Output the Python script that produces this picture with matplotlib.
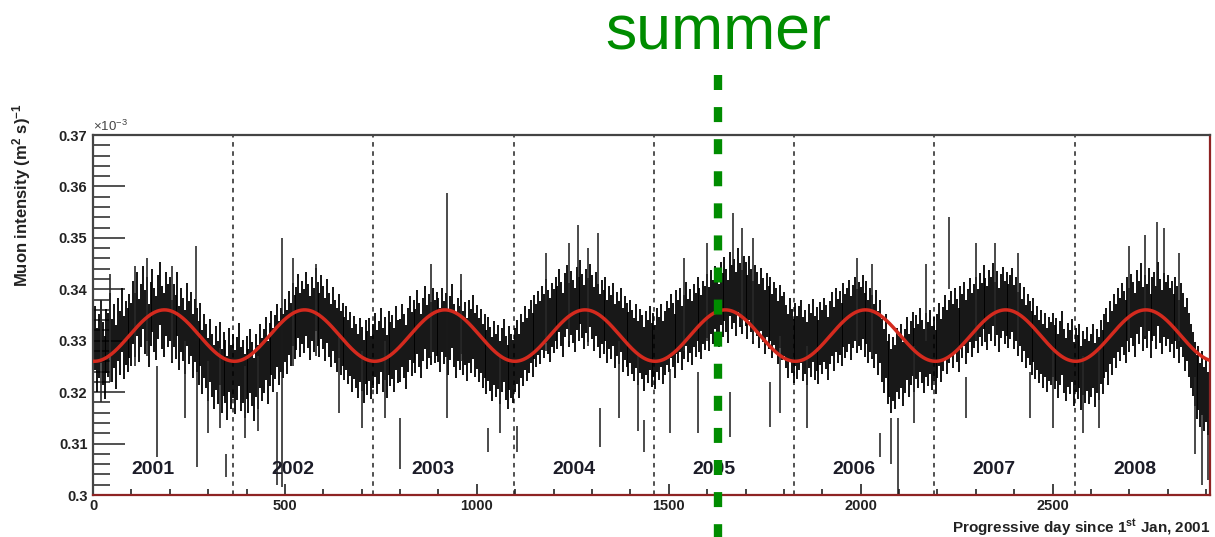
import numpy as np
import matplotlib
matplotlib.use('Agg')
import matplotlib.pyplot as plt
from matplotlib.ticker import MultipleLocator, FixedLocator, FuncFormatter

plt.rcParams['font.family'] = ['Liberation Sans', 'DejaVu Sans']
plt.rcParams['mathtext.default'] = 'regular'

# ---------------- data ----------------
day_step = 5  # one value every 5 days, starting at day 0
# muon intensity in units of 1e-4 (x 10^-3 (m^2 s)^-1)
intensity_e4 = [
    3270, 3305, 3262, 3290, 3318, 3275, 3248, 3300, 3292, 3330, 3281, 3309, 3268, 3322, 3296, 3340, 3287, 3315, 3302, 3328,
    3312, 3355, 3331, 3372, 3320, 3349, 3384, 3336, 3361, 3310, 3352, 3378, 3341, 3325, 3366, 3392, 3345, 3330, 3371, 3349,
    3362, 3318, 3349, 3327, 3371, 3305, 3340, 3322, 3298, 3351, 3316, 3333, 3290, 3320, 3302, 3276, 3312, 3258, 3289, 3270,
    3244, 3281, 3252, 3229, 3266, 3238, 3275, 3221, 3255, 3240, 3208, 3262, 3230, 3251, 3219, 3246, 3273, 3225, 3240, 3212,
    3248, 3221, 3260, 3236, 3205, 3252, 3229, 3270, 3244, 3261, 3285, 3238, 3273, 3296, 3262, 3288, 3310, 3276, 3301, 3289,
    3320, 3297, 3334, 3312, 3351, 3326, 3343, 3368, 3330, 3355, 3339, 3372, 3348, 3324, 3361, 3340, 3380, 3352, 3331, 3366,
    3345, 3322, 3358, 3331, 3310, 3342, 3318, 3301, 3329, 3296, 3312, 3285, 3306, 3278, 3293, 3262, 3287, 3270, 3251, 3282,
    3265, 3240, 3278, 3256, 3283, 3248, 3271, 3292, 3259, 3277, 3301, 3263, 3285, 3250, 3296, 3274, 3288, 3262, 3305, 3279,
    3281, 3310, 3289, 3268, 3302, 3325, 3293, 3318, 3300, 3336, 3311, 3290, 3322, 3345, 3307, 3329, 3314, 3340, 3318, 3333,
    3321, 3302, 3340, 3316, 3331, 3295, 3324, 3348, 3310, 3289, 3322, 3305, 3337, 3296, 3314, 3283, 3318, 3300, 3327, 3291,
    3307, 3282, 3299, 3271, 3290, 3258, 3284, 3265, 3245, 3276, 3252, 3269, 3238, 3262, 3281, 3247, 3229, 3266, 3251, 3240,
    3262, 3278, 3251, 3290, 3274, 3305, 3283, 3299, 3318, 3292, 3326, 3310, 3335, 3316, 3344, 3329, 3358, 3336, 3321, 3350,
    3338, 3362, 3345, 3378, 3352, 3331, 3369, 3385, 3350, 3374, 3357, 3340, 3382, 3361, 3395, 3368, 3346, 3377, 3359, 3388,
    3365, 3342, 3371, 3349, 3328, 3356, 3337, 3362, 3318, 3345, 3326, 3351, 3309, 3333, 3316, 3340, 3302, 3325, 3311, 3294,
    3318, 3297, 3283, 3309, 3276, 3300, 3288, 3265, 3295, 3279, 3306, 3272, 3291, 3268, 3302, 3285, 3310, 3277, 3296, 3315,
    3302, 3329, 3311, 3290, 3336, 3318, 3341, 3306, 3327, 3352, 3320, 3338, 3315, 3349, 3331, 3362, 3340, 3326, 3355, 3344,
    3368, 3342, 3375, 3356, 3384, 3361, 3349, 3392, 3370, 3401, 3378, 3357, 3410, 3385, 3396, 3372, 3418, 3389, 3375, 3403,
    3391, 3366, 3402, 3378, 3355, 3386, 3371, 3348, 3380, 3359, 3336, 3370, 3345, 3362, 3329, 3353, 3340, 3316, 3347, 3325,
    3333, 3308, 3290, 3322, 3299, 3280, 3312, 3287, 3306, 3318, 3284, 3297, 3275, 3309, 3291, 3320, 3286, 3303, 3278, 3314,
    3298, 3321, 3307, 3285, 3316, 3332, 3304, 3340, 3319, 3335, 3312, 3350, 3328, 3341, 3356, 3325, 3347, 3361, 3338, 3352,
    3343, 3366, 3330, 3355, 3318, 3340, 3327, 3309, 3336, 3296, 3318, 3281, 3260, 3289, 3238, 3252, 3221, 3245, 3230, 3262,
    3248, 3270, 3236, 3261, 3285, 3252, 3276, 3294, 3263, 3288, 3271, 3302, 3279, 3260, 3291, 3274, 3297, 3266, 3284, 3258,
    3290, 3312, 3281, 3304, 3326, 3298, 3318, 3335, 3309, 3341, 3320, 3302, 3345, 3328, 3352, 3317, 3339, 3360, 3331, 3348,
    3362, 3338, 3370, 3351, 3385, 3359, 3344, 3376, 3361, 3390, 3352, 3373, 3340, 3367, 3381, 3355, 3372, 3348, 3365, 3379,
    3346, 3362, 3333, 3351, 3320, 3342, 3308, 3329, 3315, 3296, 3321, 3288, 3306, 3279, 3298, 3270, 3291, 3262, 3284, 3275,
    3292, 3268, 3283, 3251, 3276, 3295, 3260, 3244, 3272, 3258, 3281, 3236, 3263, 3249, 3270, 3228, 3256, 3241, 3265, 3238,
    3252, 3270, 3233, 3261, 3246, 3278, 3258, 3289, 3302, 3275, 3316, 3296, 3328, 3309, 3341, 3322, 3350, 3335, 3318, 3362,
    3340, 3368, 3352, 3331, 3375, 3355, 3389, 3342, 3366, 3348, 3380, 3329, 3361, 3372, 3345, 3391, 3358, 3337, 3370, 3352,
    3366, 3340, 3355, 3329, 3362, 3345, 3318, 3350, 3331, 3304, 3322, 3292, 3270, 3255, 3236, 3210, 3228, 3195, 3218, 3186,
    3204, 3178, 3196,
]
point_err = 0.0062  # typical half-length of the error bars

# isolated long error bars (day, lower end, upper end)
outlier_day = [167, 268, 270, 347, 480, 492, 800, 922, 1029, 1104, 1263, 1315, 1320, 1435,
               1503, 1576, 1659, 1667, 1763, 2050, 2080, 2096, 2231, 2275, 2440, 2771, 2790, 2890, 2905]
outlier_low = [0.3074, 0.3300, 0.3055, 0.3035, 0.3020, 0.3015, 0.3050, 0.3150, 0.3083, 0.3083, 0.3400, 0.3400, 0.3093, 0.3083,
               0.3120, 0.3120, 0.3112, 0.3420, 0.3132, 0.3073, 0.3060, 0.3000, 0.3400, 0.3150, 0.3150, 0.3400, 0.3400, 0.3020, 0.3030]
outlier_high = [0.3250, 0.3485, 0.3240, 0.3080, 0.3200, 0.3500, 0.3150, 0.3588, 0.3130, 0.3135, 0.3525, 0.3510, 0.3170, 0.3145,
                0.3245, 0.3240, 0.3200, 0.3548, 0.3220, 0.3120, 0.3150, 0.3150, 0.3540, 0.3230, 0.3240, 0.3530, 0.3520, 0.3160, 0.3150]

# bars that stick out of the dense band (day, lower end, upper end)
stray_day = [20, 45, 110, 140, 205, 240, 300, 330, 395, 430,
             520, 580, 640, 700, 760, 880, 960, 1060,
             1180, 1240, 1290, 1370, 1420, 1540, 1600, 1690, 1720, 1790,
             1860, 1990, 2030, 2140, 2170, 2300, 2350, 2410, 2500, 2580, 2620,
             2700, 2740, 2830, 2870]
stray_low = [0.318, 0.322, 0.325, 0.327, 0.326, 0.315, 0.312, 0.313, 0.311, 0.3125,
             0.325, 0.327, 0.316, 0.313, 0.315, 0.327, 0.326, 0.312,
             0.328, 0.330, 0.329, 0.315, 0.3125, 0.328, 0.330, 0.333, 0.330, 0.316,
             0.313, 0.329, 0.327, 0.314, 0.330, 0.330, 0.331, 0.329, 0.313, 0.312, 0.313,
             0.330, 0.331, 0.330, 0.308]
stray_high = [0.338, 0.343, 0.3445, 0.346, 0.3445, 0.330, 0.326, 0.3285, 0.325, 0.327,
              0.346, 0.345, 0.331, 0.328, 0.330, 0.345, 0.343, 0.327,
              0.347, 0.349, 0.348, 0.330, 0.327, 0.346, 0.349, 0.352, 0.350, 0.331,
              0.329, 0.346, 0.345, 0.329, 0.345, 0.349, 0.349, 0.347, 0.328, 0.327, 0.328,
              0.3485, 0.3505, 0.347, 0.323]

year_start = [0, 365, 730, 1096, 1461, 1826, 2191, 2557]
year_labels = ['2001', '2002', '2003', '2004', '2005', '2006', '2007', '2008']

# sinusoidal fit parameters
fit_mean = 0.331
fit_amp = 0.005
fit_period = 365.25
fit_peak_day = 186

summer_day = 1628
x_max = 2910
x_ticks = [0, 500, 1000, 1500, 2000, 2500]
y_ticks = [0.30, 0.31, 0.32, 0.33, 0.34, 0.35, 0.36, 0.37]

# ---------------- figure ----------------
W, H = 1215, 537
fig = plt.figure(figsize=(W / 100, H / 100), dpi=100)
ax = fig.add_axes([93 / W, 1 - 495 / H, (1210 - 93) / W, (495 - 135) / H])

days = np.arange(len(intensity_e4)) * day_step
vals = np.array(intensity_e4) / 1e4

ax.vlines(days, vals - point_err, vals + point_err, color='black', lw=1.3, zorder=2)
ax.vlines(stray_day, stray_low, stray_high, color='#2a2a2a', lw=1.2, zorder=2)
ax.vlines(outlier_day, outlier_low, outlier_high, color='#1a1a1a', lw=1.1, zorder=2)

fit_x = np.linspace(0, x_max, 2000)
fit_y = fit_mean + fit_amp * np.cos(2 * np.pi * (fit_x - fit_peak_day) / fit_period)
ax.plot(fit_x, fit_y, color='#d42a1e', lw=2.5, zorder=3)

for d in year_start[1:]:
    ax.axvline(d, color='#222222', lw=1.1, ls=(0, (3, 3)), zorder=1)
for d, lab in zip(year_start, year_labels):
    ax.text(d + 100, 0.3049, lab, fontsize=14, fontweight='bold', color='#1c1c28',
            ha='left', va='center', zorder=4)

ax.set_xlim(0, x_max)
ax.set_ylim(0.30, 0.37)
ax.xaxis.set_major_locator(FixedLocator(x_ticks))
ax.xaxis.set_minor_locator(MultipleLocator(100))
ax.yaxis.set_major_locator(FixedLocator(y_ticks))
ax.yaxis.set_minor_locator(MultipleLocator(0.002))
ax.yaxis.set_major_formatter(FuncFormatter(lambda v, p: '%g' % round(v, 3)))
ax.xaxis.set_major_formatter(FuncFormatter(lambda v, p: '%d' % v))
ax.tick_params(axis='y', which='major', direction='in', length=23, width=1.2, color='#333333',
               labelsize=10.5, pad=4)
ax.tick_params(axis='y', which='minor', direction='in', length=12, width=1.2, color='#333333')
ax.tick_params(axis='x', which='major', direction='in', length=8, width=1.2, color='#222222',
               labelsize=10.5, pad=3)
ax.tick_params(axis='x', which='minor', direction='in', length=4.3, width=1.2, color='#222222')
for lab in ax.get_xticklabels() + ax.get_yticklabels():
    lab.set_fontweight('bold')
    lab.set_color('#222222')

for side in ('left', 'top'):
    ax.spines[side].set_color('#444444')
    ax.spines[side].set_linewidth(1.6)
for side in ('bottom', 'right'):
    ax.spines[side].set_color('#8e2323')
    ax.spines[side].set_linewidth(1.6)

# green "summer" marker
green = '#008c00'
ax.plot([summer_day, summer_day], [1.167, -0.12], transform=ax.get_xaxis_transform(),
        clip_on=False, color=green, lw=6, dashes=(1.8, 2.05), dash_capstyle='butt', zorder=5)
fig.text(718 / W, 1 - 49 / H, 'summer', ha='center', va='baseline', fontsize=45, color=green)

# axis titles
fig.text(22 / W, 1 - 103 / H, 'Muon intensity (m$^{2}$ s)$^{-1}$', rotation=90, ha='center', va='top',
         fontsize=12, fontweight='bold', color='#222222')
fig.text(1210 / W, 1 - 528 / H, 'Progressive day since 1$^{st}$ Jan, 2001', ha='right', va='center',
         fontsize=11, fontweight='bold', color='#222222')
fig.text(93 / W, 1 - 131 / H, '×10$^{-3}$', ha='left', va='baseline', fontsize=9.5, color='#444444')

fig.savefig('out.png', dpi=100)
